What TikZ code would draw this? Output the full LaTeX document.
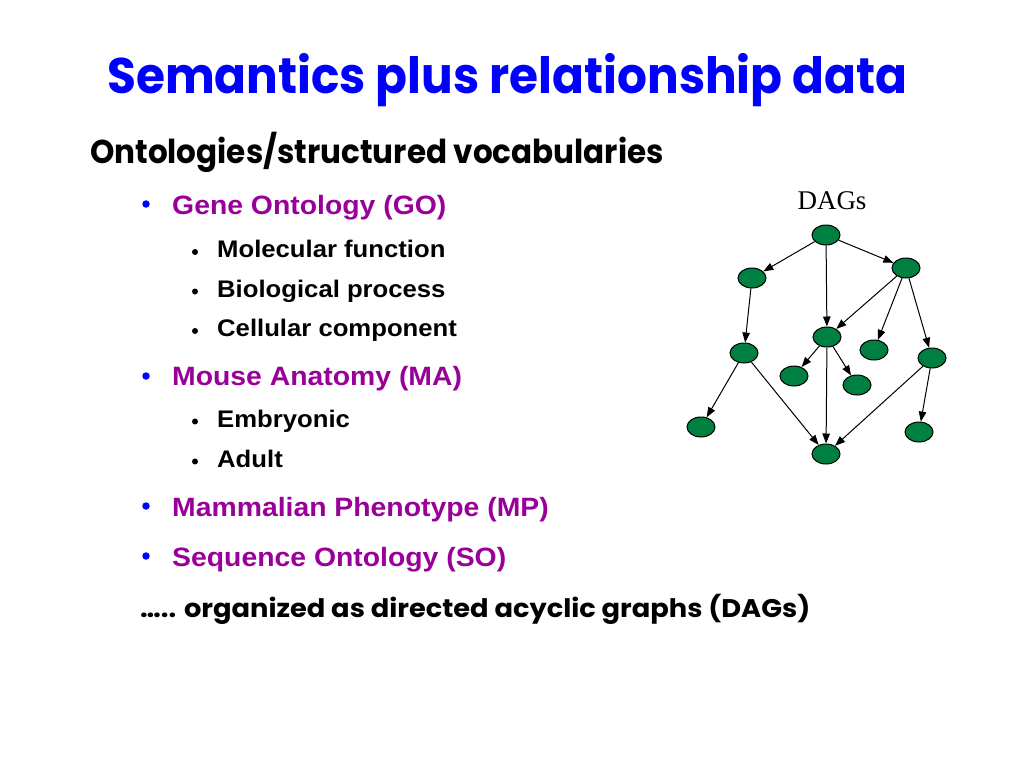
\documentclass[tikz,border=0pt]{standalone}
\usepackage{fontspec}
\usetikzlibrary{arrows.meta,shapes.geometric}
\setmainfont{Liberation Sans}
\newfontfamily\arialx[FakeStretch=1.07]{Liberation Sans}
\newfontfamily\comictitle[FakeStretch=0.94]{Poppins}
\newfontfamily\comicorg[FakeStretch=1.07]{Poppins}
\newfontfamily\timesf{Liberation Serif}
\definecolor{titleblue}{RGB}{0,0,255}
\definecolor{itempurple}{RGB}{153,0,153}
\definecolor{nodegreen}{RGB}{0,128,64}
\tikzset{
  dagnode/.style={ellipse,draw=black,line width=1pt,fill=nodegreen,minimum width=28pt,minimum height=20pt,inner sep=0pt},
  dagarrow/.style={-{Triangle[length=10pt,width=7.5pt]},line width=1pt,black},
  mainitem/.style={anchor=base west,inner sep=0pt,text=itempurple,font=\arialx\fontsize{26.5}{30}\selectfont\bfseries},
  subitem/.style={anchor=base west,inner sep=0pt,text=black,font=\arialx\fontsize{24}{28}\selectfont\bfseries},
  mainbullet/.style={circle,fill=titleblue,inner sep=0pt,minimum size=7.5pt},
  subbullet/.style={circle,fill=black,inner sep=0pt,minimum size=6pt},
}
\begin{document}
\begin{tikzpicture}[x=1pt,y=-1pt]
\useasboundingbox[fill=white] (0,0) rectangle (1024,768);
\node[anchor=base west,inner sep=0pt,text=titleblue,font=\comictitle\fontsize{50}{58}\selectfont\bfseries] (title) at (107,93) {Semantics plus relationship data};
\node[anchor=base west,inner sep=0pt,font=\comictitle\fontsize{33}{38}\selectfont\bfseries] (onto) at (90,163) {Ontologies/structured vocabularies};
% items
\node[mainbullet] (b1) at (146,204) {};
\node[mainitem] (go) at (172,214) {Gene Ontology (GO)};
\node[subbullet] (s1) at (195,252) {};
\node[subitem] (mf) at (217,257.5) {Molecular function};
\node[subbullet] (s2) at (195,291.5) {};
\node[subitem] (bp) at (217,297) {Biological process};
\node[subbullet] (s3) at (195,331) {};
\node[subitem] (cc) at (217,336.5) {Cellular component};
\node[mainbullet] (b2) at (146,376) {};
\node[mainitem] (ma) at (172,385.5) {Mouse Anatomy (MA)};
\node[subbullet] (s4) at (195,421.5) {};
\node[subitem] (em) at (217,427) {Embryonic};
\node[subbullet] (s5) at (195,461.5) {};
\node[subitem] (ad) at (217,467) {Adult};
\node[mainbullet] (b3) at (146,506) {};
\node[mainitem] (mp) at (172,516) {Mammalian Phenotype (MP)};
\node[mainbullet] (b4) at (146,556) {};
\node[mainitem] (so) at (172,566) {Sequence Ontology (SO)};
\node[anchor=base west,inner sep=0pt,font=\comicorg\fontsize{25.5}{30}\selectfont\bfseries] (org) at (140,617) {\ldots.. organized as directed acyclic graphs (DAGs)};
% DAG
\node[inner sep=0pt,anchor=base,font=\timesf\fontsize{27}{32}\selectfont] (dags) at (832,209) {DAGs};
\node[dagnode] (t) at (826,235) {};
\node[dagnode] (l1) at (752,278) {};
\node[dagnode] (r1) at (906,268) {};
\node[dagnode] (m) at (827,337) {};
\node[dagnode] (l2) at (744,353) {};
\node[dagnode] (c1) at (874,350) {};
\node[dagnode] (r2) at (932,358) {};
\node[dagnode] (ml) at (794,376) {};
\node[dagnode] (mr) at (857,385) {};
\node[dagnode] (ll) at (701,427) {};
\node[dagnode] (bt) at (826,454) {};
\node[dagnode] (rr) at (919,432) {};
\draw[dagarrow] (t) -- (l1);
\draw[dagarrow] (t) -- (m);
\draw[dagarrow] (t) -- (r1);
\draw[dagarrow] (l1) -- (l2);
\draw[dagarrow] (r1) -- (m);
\draw[dagarrow] (r1) -- (c1);
\draw[dagarrow] (r1) -- (r2);
\draw[dagarrow] (m) -- (ml);
\draw[dagarrow] (m) -- (mr);
\draw[dagarrow] (m) -- (bt);
\draw[dagarrow] (l2) -- (ll);
\draw[dagarrow] (l2) -- (bt);
\draw[dagarrow] (r2) -- (bt);
\draw[dagarrow] (r2) -- (rr);
\end{tikzpicture}
\end{document}
